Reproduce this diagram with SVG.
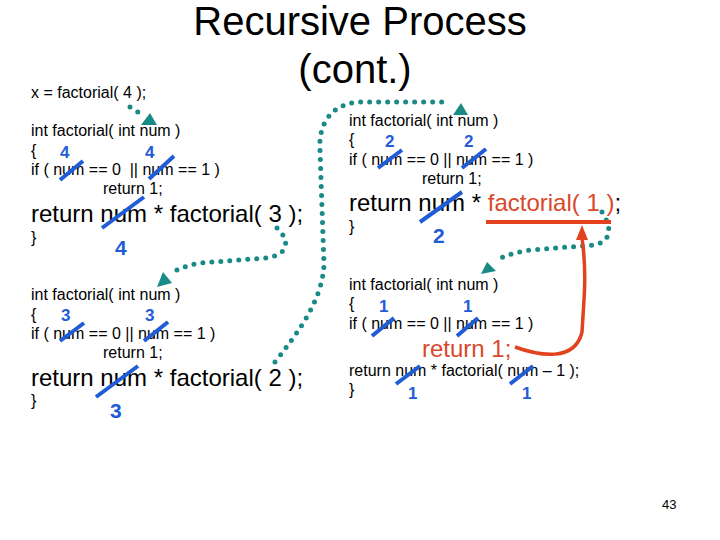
<svg xmlns="http://www.w3.org/2000/svg" width="720" height="540" viewBox="0 0 720 540">
<style>
text{font-family:"Liberation Sans",Arial,sans-serif;fill:#000}
.t{font-size:40px}
.s{font-size:16px}
.b{font-size:24px}
.red{fill:#d9482b}
.n{font-weight:bold;fill:#1f5cd6}
.ns{font-size:17px}
.nb{font-size:21px}
.sl{stroke:#1f5cd6;stroke-width:4;stroke-linecap:butt}
.dot{fill:none;stroke:#1a8a86;stroke-width:5;stroke-linecap:round;stroke-dasharray:0 9}
.head{fill:#1a8a86}
</style>
<rect width="720" height="540" fill="#fff"/>
<g id="title">
<text class="t" x="360" y="35" text-anchor="middle">Recursive Process</text>
<text class="t" x="355" y="83" text-anchor="middle">(cont.)</text>
</g>
<g id="call">
<text class="s" x="31" y="98">x = factorial( 4 );</text>
</g>
<g id="block1">
<text class="s" x="31" y="136">int factorial( int num )</text>
<text class="s" x="31" y="156">{</text>
<text class="s" x="31" y="175" xml:space="preserve">if ( num == 0  || num == 1 )</text>
<text class="s" x="103" y="194">return 1;</text>
<text class="b" x="31" y="222">return num * factorial( 3 );</text>
<text class="s" x="31" y="243">}</text>
<text class="n ns" x="60" y="158">4</text>
<text class="n ns" x="145" y="158">4</text>
<text class="n nb" x="115" y="255">4</text>
<line class="sl" x1="60" y1="180" x2="83" y2="161"/>
<line class="sl" x1="149" y1="179" x2="174" y2="156"/>
<line class="sl" x1="102" y1="228" x2="144" y2="197"/>
</g>
<g id="block2">
<text class="s" x="349" y="126">int factorial( int num )</text>
<text class="s" x="349" y="145">{</text>
<text class="s" x="349" y="165">if ( num == 0 || num == 1 )</text>
<text class="s" x="422" y="184">return 1;</text>
<text class="b" x="349" y="211">return num * <tspan class="red">factorial( 1 )</tspan>;</text>
<text class="s" x="349" y="232">}</text>
<text class="n ns" x="385" y="147">2</text>
<text class="n ns" x="464" y="147">2</text>
<text class="n nb" x="433" y="243">2</text>
<line class="sl" x1="378" y1="168" x2="402" y2="150"/>
<line class="sl" x1="462" y1="168" x2="486" y2="149"/>
<line class="sl" x1="420" y1="222" x2="462" y2="192"/>
</g>
<g id="block3">
<text class="s" x="31" y="300">int factorial( int num )</text>
<text class="s" x="31" y="320">{</text>
<text class="s" x="31" y="339">if ( num == 0 || num == 1 )</text>
<text class="s" x="103" y="358">return 1;</text>
<text class="b" x="31" y="386">return num * factorial( 2 );</text>
<text class="s" x="31" y="406">}</text>
<text class="n ns" x="61" y="321">3</text>
<text class="n ns" x="145" y="321">3</text>
<text class="n nb" x="110" y="418">3</text>
<line class="sl" x1="60" y1="341" x2="84" y2="323"/>
<line class="sl" x1="144" y1="341" x2="168" y2="322"/>
<line class="sl" x1="96" y1="397" x2="138" y2="366"/>
</g>
<g id="block4">
<text class="s" x="349" y="290">int factorial( int num )</text>
<text class="s" x="349" y="309">{</text>
<text class="s" x="349" y="329">if ( num == 0 || num == 1 )</text>
<text class="b red" x="422" y="357">return 1;</text>
<text class="s" x="349" y="376">return num * factorial( num – 1 );</text>
<text class="s" x="349" y="395">}</text>
<text class="n ns" x="379" y="312">1</text>
<text class="n ns" x="463" y="312">1</text>
<text class="n ns" x="408" y="399">1</text>
<text class="n ns" x="522" y="399">1</text>
<line class="sl" x1="372" y1="336" x2="394" y2="318"/>
<line class="sl" x1="457" y1="336" x2="478" y2="318"/>
<line class="sl" x1="396" y1="384" x2="420" y2="366"/>
<line class="sl" x1="510" y1="384" x2="533" y2="366"/>
</g>
<g id="page">
<text x="662" y="509" font-size="13">43</text>
</g>
<g id="connectors">
<path class="dot" d="M130,107 Q136,110 140,114"/>
<polygon class="head" points="150,113 141,125 157,125"/>
<path class="dot" d="M277,228 C290,240 290,255 265,258 L200,263 C188,265 178,269 171,273"/>
<polygon class="head" points="157,287 163,272 172,283"/>
<path class="dot" d="M275,362 C300,330 322,300 324,265 L320,150 C318,120 335,103 360,102 L450,102"/>
<polygon class="head" points="461,103 453,115 468,115"/>
<path class="dot" d="M602,212 C612,228 612,240 595,245 L530,250 C512,253 502,257 495,261"/>
<polygon class="head" points="481,274 487,262 496,271"/>
<line x1="486" y1="222" x2="611" y2="222" stroke="#e2431e" stroke-width="4"/>
<path d="M515,347 C540,356 575,362 582,332 L584,300 C586,270 584,252 582,238" fill="none" stroke="#e2431e" stroke-width="3.5"/>
<polygon points="582,225 576,240 588,240" fill="#e2431e"/>
</g>
</svg>
